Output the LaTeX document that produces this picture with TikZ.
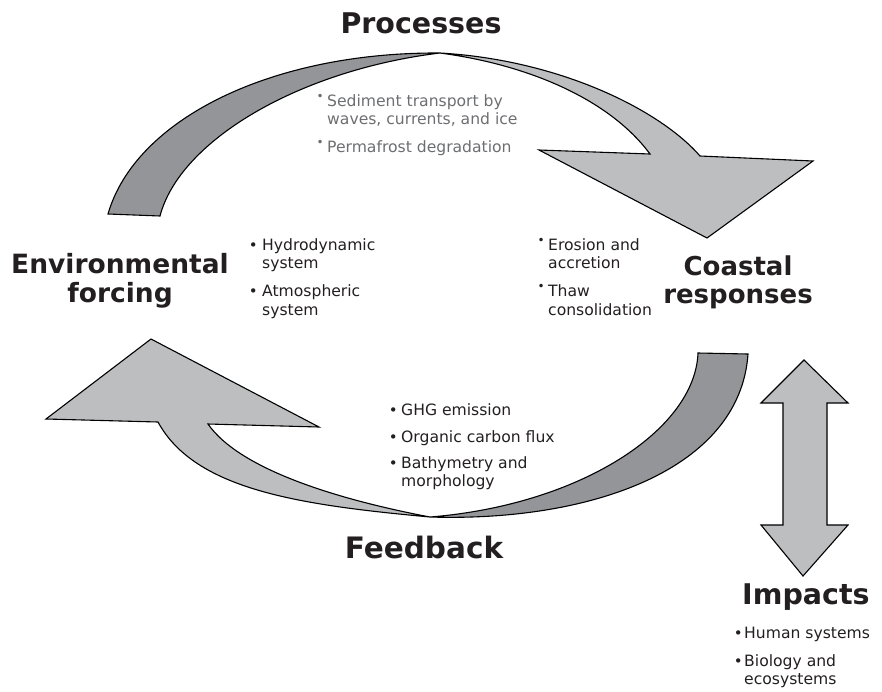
\documentclass[tikz,border=0pt]{standalone}
\usepackage{fontspec}
\setmainfont{DejaVu Sans}
\usepackage{xcolor}
\definecolor{txt}{HTML}{231F20}
\definecolor{ptxt}{HTML}{6D6E71}
\definecolor{darkband}{HTML}{939598}
\definecolor{lightband}{HTML}{BCBEC0}
\newcommand\bitem[1]{\makebox[#1][l]{\fontsize{15}{15}\selectfont\raisebox{0pt}{•}}}
\newcommand\ritem[1]{\makebox[#1][l]{\fontsize{12}{12}\selectfont\raisebox{6pt}{•}}}
\begin{document}
\begin{tikzpicture}[x=1pt,y=-1pt,
  band/.style={draw=black,line width=1.1pt,line join=miter},
  heading/.style={inner sep=0pt,anchor=base,text=txt,font=\bfseries},
  blist/.style={inner sep=0pt,anchor=base west,text=txt,font=\fontsize{15.6}{18.5}\selectfont}]
\useasboundingbox (0,0) rectangle (882,691);

% ---------- top arrow (Processes) ----------
\coordinate (pT) at (440,53);
\coordinate (pA0) at (108,214);
\coordinate (pA1) at (160,216);
\draw[band,fill=darkband] (pA0) .. controls (135,120) and (270,52) .. (pT)
  .. controls (300,70) and (180,140) .. (pA1) -- cycle;
\draw[band,fill=lightband] (pT) .. controls (560,60) and (660,110) .. (700,156)
  -- (813,161) -- (707,238) -- (539,150) -- (650,154)
  .. controls (610,100) and (530,65) .. (pT) -- cycle;

% ---------- bottom arrow (Feedback) ----------
\coordinate (qT) at (430,517);
\draw[band,fill=darkband] (698,353) -- (748,354) .. controls (740,470) and (590,522) .. (qT)
  .. controls (580,505) and (695,430) .. (698,353) -- cycle;
\draw[band,fill=lightband] (qT) .. controls (300,505) and (195,490) .. (158,422)
  -- (46,419) -- (151,339) -- (319,427) -- (208,424)
  .. controls (240,470) and (340,500) .. (qT) -- cycle;

% ---------- double arrow (Impacts) ----------
\draw[band,fill=lightband] (804,360) -- (848,403) -- (827,403) -- (827,525) -- (848,525)
  -- (803,576) -- (761,525) -- (783,525) -- (783,403) -- (761,403) -- cycle;

% ---------- headings ----------
\node[heading] (proc) at (421,33) {\fontsize{28.5}{30}\selectfont Processes};
\node[heading] (env) at (120,273) {\fontsize{26.5}{29}\selectfont\begin{tabular}[t]{@{}c@{}}Environmental\\forcing\end{tabular}};
\node[heading] (coast) at (738,275) {\fontsize{26}{28}\selectfont\begin{tabular}[t]{@{}c@{}}Coastal\\responses\end{tabular}};
\node[heading] (feed) at (424,558) {\fontsize{29.5}{30}\selectfont Feedback};
\node[heading,anchor=base west] (imp) at (742,604) {\fontsize{28.5}{30}\selectfont Impacts};

% ---------- bullet lists ----------
\node[blist,text=ptxt] (plist) at (316.5,106) {\begin{tabular}[t]{@{}l@{}l@{}}
  \ritem{10.5pt} & Sediment transport by\\ & waves, currents, and ice\\[9.5pt]
  \ritem{10.5pt} & Permafrost degradation\end{tabular}};
\node[blist] (elist) at (248.6,250) {\begin{tabular}[t]{@{}l@{}l@{}}
  \bitem{13.4pt} & Hydrodynamic\\ & system\\[9.5pt]
  \bitem{13.4pt} & Atmospheric\\ & system\end{tabular}};
\node[blist] (clist) at (537.5,250) {\begin{tabular}[t]{@{}l@{}l@{}}
  \ritem{10.5pt} & Erosion and\\ & accretion\\[9.5pt]
  \ritem{10.5pt} & Thaw\\ & consolidation\end{tabular}};
\node[blist] (flist) at (388.6,415) {\begin{tabular}[t]{@{}l@{}l@{}}
  \bitem{12.4pt} & GHG emission\\[8.5pt]
  \bitem{12.4pt} & Organic carbon flux\\[7.5pt]
  \bitem{12.4pt} & Bathymetry and\\ & morphology\end{tabular}};
\node[blist] (ilist) at (733.6,638) {\begin{tabular}[t]{@{}l@{}l@{}}
  \bitem{10.4pt} & Human systems\\[9.5pt]
  \bitem{10.4pt} & Biology and\\ & ecosystems\end{tabular}};
\end{tikzpicture}
\end{document}
